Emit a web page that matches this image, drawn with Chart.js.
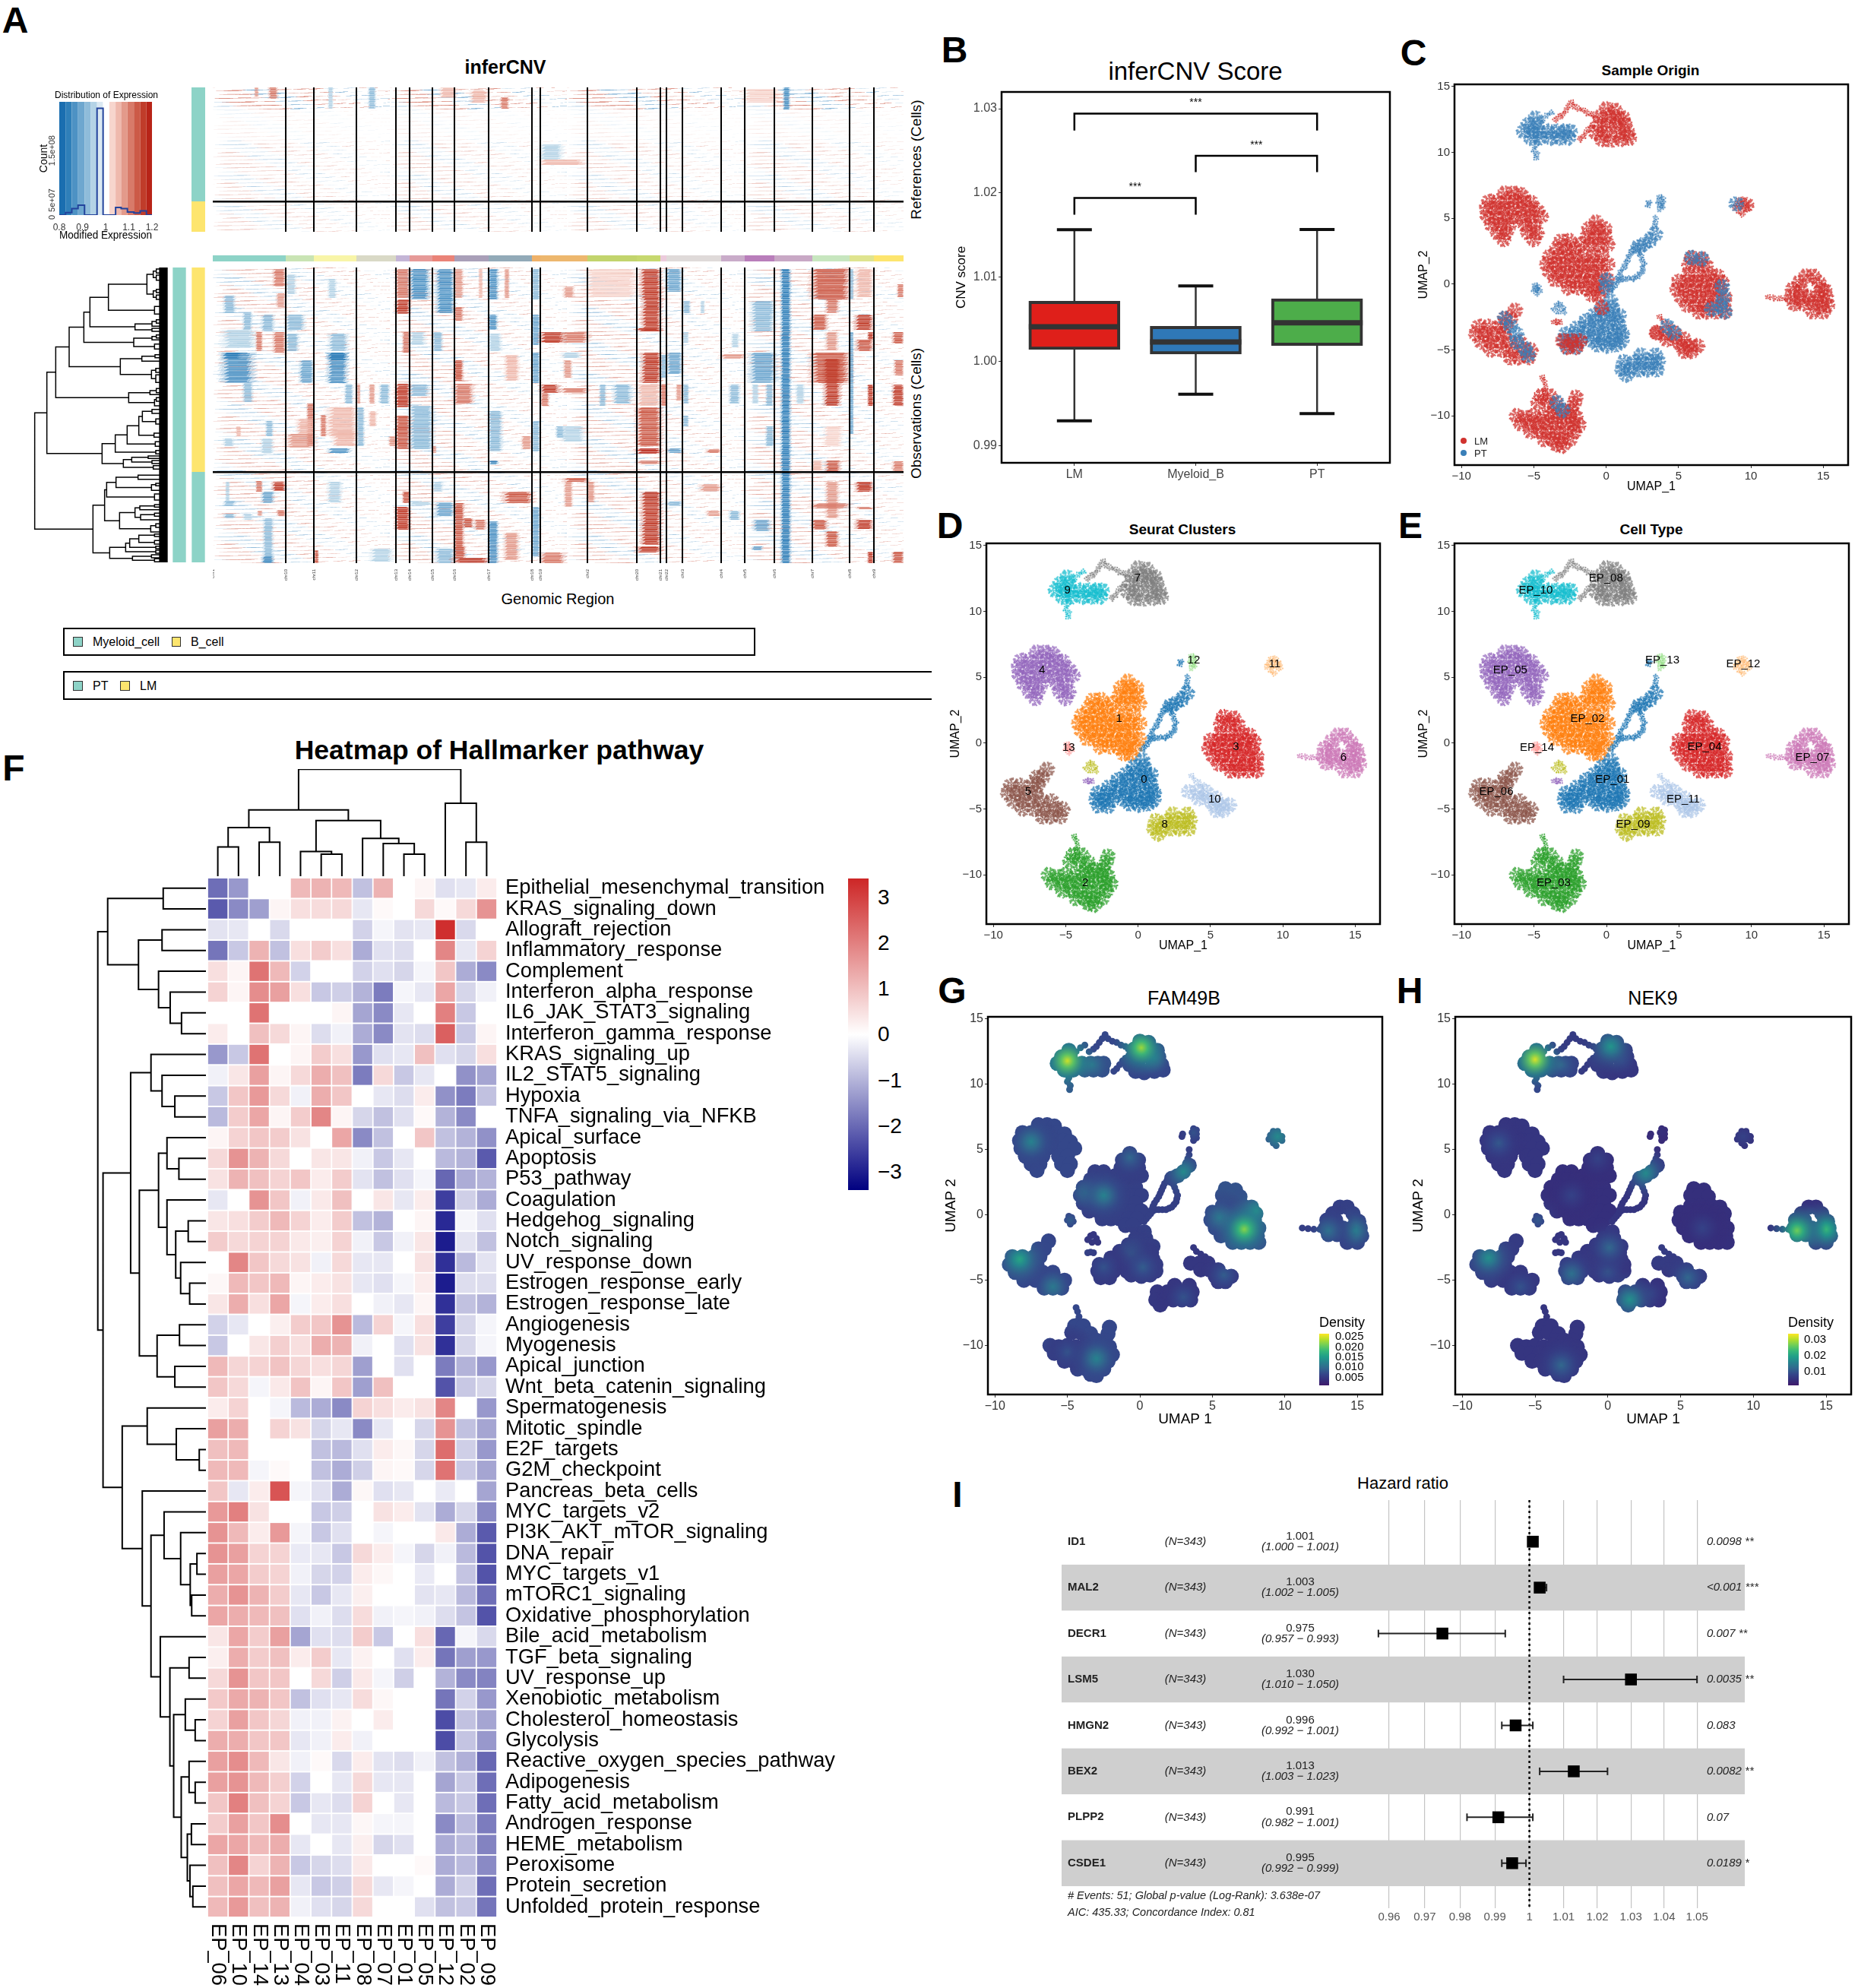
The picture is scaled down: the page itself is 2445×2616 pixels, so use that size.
<!DOCTYPE html>
<html>
<head>
<meta charset="utf-8">
<title>inferCNV figure</title>
<script src="https://cdn.jsdelivr.net/npm/chart.js@4/dist/chart.umd.min.js"></script>
<style>
html,body{margin:0;padding:0;background:#fff}
#page{position:relative;width:2445px;height:2616px;overflow:hidden;background:#fff;font-family:"Liberation Sans",Arial,sans-serif;color:#000}
.t{position:absolute;white-space:nowrap;line-height:1}
</style>
</head>
<body>
<div id="page"></div>
<script>
// ---------- A: inferCNV ----------
var histEdges = [0.8, 0.827, 0.854, 0.881, 0.909, 0.936, 0.963, 0.989, 1.016, 1.043, 1.067, 1.094, 1.122, 1.149, 1.176, 1.2];
var histBands = ['#1a6eb0', '#2f7fb9', '#4d92c4', '#6ea7cf', '#8fbcda', '#b4d3e6', '#dbe9f2', '#ffffff', '#f7d5cd', '#efb9ad', '#e39a8b', '#d87a69', '#cc5a47', '#c03c2a', '#b82418'];
var histCounts = [0, 0, 4.8e6, 1.2e7, 1.86e7, 0, 0, 2.01e8, 0, 0, 1.43e7, 1.2e7, 5.7e6, 3.8e6, 8e6, 0];
var chrNames = ['chr1', 'chr10', 'chr11', 'chr12', 'chr13', 'chr14', 'chr15', 'chr16', 'chr17', 'chr18', 'chr19', 'chr2', 'chr20', 'chr21', 'chr22', 'chr3', 'chr4', 'chr5', 'chr6', 'chr7', 'chr8', 'chr9'];
var chrStarts = [0, 96, 133, 189, 241, 259, 289, 318, 363, 420, 431, 493, 558, 589, 597, 618, 669, 700, 739, 789, 838, 870];
var chrEnd = 909;
var chrColors = ['#8dd3c7', '#c9e4b4', '#f8f5a8', '#d9d9c6', '#c4b5d6', '#e69a98', '#ea8378', '#a99fb8', '#92aab8', '#efb169', '#edb76e', '#c2d46d', '#c6d86f', '#eccbdc', '#dfdad9', '#dfdad9', '#c9acc9', '#b97ebb', '#c8a8c5', '#c7e6bf', '#dfe48f', '#fde56e'];
// [from gene, to gene, from cell, to cell, modified expression]
var refNoise = [[0, 909, 0, 29, 3], [0, 909, 29, 70, 0.4], [0, 909, 70, 190, 1.1]];
var refBlocks = [
  [74, 85, 0, 15, 1.12], [55, 60, 0, 12, 1.08], [205, 214, 0, 28, 0.93], [152, 158, 0, 28, 0.96], [379, 389, 13, 28, 1.12], [751, 759, 0, 29, 0.87],
  [432, 459, 75, 95, 0.96], [432, 487, 95, 102, 1.05], [300, 320, 0, 14, 1.05], [700, 745, 2, 20, 1.04], [340, 360, 4, 20, 1.05]
];
var obsBlocks = [
  [80, 95, 2, 25, 1.1], [84, 95, 34, 52, 1.09], [15, 29, 37, 60, 0.93], [40, 51, 59, 82, 0.93], [65, 80, 62, 84, 0.92], [15, 55, 82, 105, 0.95], [57, 65, 85, 110, 1.11], [80, 95, 85, 112, 1.12],
  [14, 52, 112, 152, 0.87], [14, 36, 112, 120, 0.84], [40, 52, 152, 177, 0.92], [70, 79, 202, 222, 0.93], [31, 37, 209, 222, 1.06], [15, 27, 225, 235, 0.95], [64, 79, 225, 245, 0.95],
  [57, 65, 281, 295, 1.12], [79, 95, 282, 294, 1.15], [65, 80, 295, 310, 0.89], [15, 29, 307, 314, 0.92], [15, 29, 324, 330, 0.93], [40, 52, 324, 332, 0.94], [59, 65, 320, 327, 1.09], [85, 95, 319, 327, 1.1], [67, 79, 330, 389, 0.91], [65, 79, 380, 389, 0.88], [17, 22, 282, 307, 0.95],
  [97, 109, 9, 35, 0.95], [97, 120, 62, 82, 0.93], [97, 112, 87, 110, 0.92], [115, 132, 122, 152, 0.9], [124, 133, 179, 235, 1.12], [98, 133, 219, 237, 1.07], [112, 133, 199, 219, 1.06],
  [152, 162, 15, 40, 0.96], [154, 177, 87, 110, 0.92], [152, 176, 112, 152, 0.88], [152, 176, 112, 122, 0.84], [174, 184, 154, 179, 0.93], [152, 189, 184, 222, 1.05], [142, 149, 194, 222, 1.12], [159, 189, 215, 235, 1.06], [153, 180, 238, 244, 0.87], [152, 169, 282, 309, 0.95], [134, 139, 372, 389, 1.14],
  [190, 199, 184, 235, 0.91], [220, 232, 154, 179, 0.92], [206, 213, 154, 179, 1.07], [190, 194, 154, 179, 1.09], [206, 215, 189, 209, 1.05], [232, 241, 222, 235, 1.07], [209, 235, 370, 387, 0.95],
  [241, 259, 2, 40, 1.11], [241, 259, 42, 61, 1.15], [250, 259, 85, 112, 1.11], [241, 259, 153, 184, 1.16], [241, 259, 195, 239, 1.14], [250, 259, 295, 310, 1.13], [241, 259, 315, 345, 1.16],
  [260, 284, 2, 42, 0.88], [260, 289, 182, 239, 0.92], [260, 284, 154, 169, 0.93], [260, 279, 85, 102, 0.96], [260, 289, 308, 312, 0.94],
  [295, 317, 2, 60, 0.88], [290, 302, 85, 110, 0.92], [294, 317, 309, 327, 0.89], [290, 302, 282, 295, 0.94], [294, 317, 370, 389, 0.93], [289, 294, 235, 244, 1.09],
  [318, 329, 2, 40, 1.08], [318, 329, 52, 70, 1.1], [318, 329, 122, 149, 1.13], [318, 342, 153, 179, 1.11], [318, 330, 310, 369, 1.14], [330, 342, 330, 342, 1.14], [345, 359, 332, 345, 1.11], [318, 332, 367, 382, 1.14], [318, 362, 382, 389, 1.15], [350, 355, 2, 40, 1.06],
  [363, 375, 2, 42, 0.88], [363, 374, 62, 82, 0.88], [363, 379, 87, 110, 0.95], [363, 380, 189, 242, 0.91], [364, 375, 254, 259, 0.85], [384, 390, 2, 40, 1.07], [385, 402, 115, 149, 1.06], [384, 420, 295, 310, 1.14], [363, 375, 334, 389, 0.88], [384, 402, 349, 385, 1.09], [407, 419, 222, 239, 1.07],
  [420, 430, 2, 42, 0.93], [420, 430, 62, 102, 0.9], [420, 430, 112, 152, 0.9], [420, 430, 202, 242, 0.92], [420, 430, 315, 380, 0.89],
  [432, 462, 85, 99, 1.15], [432, 455, 154, 165, 1.15], [432, 442, 165, 182, 1.1], [452, 462, 209, 224, 0.93], [432, 462, 375, 389, 1.12],
  [460, 493, 85, 99, 1.12], [462, 475, 25, 39, 1.08], [462, 472, 122, 145, 1.09], [460, 493, 159, 165, 1.1], [463, 493, 277, 282, 1.14], [463, 473, 282, 315, 1.09], [460, 483, 112, 119, 0.95], [460, 487, 209, 229, 0.95],
  [493, 556, 2, 39, 1.03], [509, 517, 154, 182, 0.93], [528, 550, 154, 179, 0.92], [493, 502, 282, 309, 1.08],
  [564, 589, 2, 42, 1.15], [566, 589, 42, 84, 1.17], [559, 589, 80, 84, 1.16], [565, 589, 112, 152, 1.17], [559, 589, 154, 182, 1.06], [559, 589, 184, 235, 1.13], [559, 589, 238, 245, 1.18], [559, 589, 254, 259, 1.1], [565, 589, 295, 365, 1.15], [559, 589, 367, 375, 1.17],
  [590, 597, 115, 145, 0.92], [590, 597, 154, 182, 1.1],
  [597, 617, 2, 32, 0.9], [598, 617, 112, 140, 0.9], [598, 617, 238, 244, 0.89], [610, 617, 154, 175, 1.08], [598, 617, 308, 314, 0.93],
  [619, 628, 44, 60, 0.92], [642, 647, 44, 60, 0.94], [619, 626, 85, 99, 0.94], [619, 626, 154, 179, 0.93], [619, 626, 195, 209, 0.92], [650, 668, 239, 244, 1.12], [642, 668, 285, 295, 1.09], [650, 668, 320, 327, 1.07],
  [683, 692, 87, 105, 0.94], [680, 693, 154, 179, 0.93], [680, 693, 320, 332, 0.93], [669, 700, 114, 120, 1.07],
  [710, 738, 44, 84, 0.91], [708, 740, 112, 152, 0.89], [710, 718, 154, 179, 0.94], [728, 737, 154, 182, 0.91], [728, 738, 209, 235, 0.93], [712, 733, 332, 347, 0.9], [710, 723, 367, 372, 0.9],
  [748, 760, 2, 389, 0.84], [768, 778, 154, 179, 0.95],
  [789, 837, 2, 42, 1.13], [789, 808, 62, 82, 1.14], [807, 823, 42, 60, 1.1], [807, 822, 85, 109, 1.08], [789, 837, 112, 152, 1.13], [805, 825, 120, 182, 1.15], [807, 825, 254, 269, 1.13], [807, 823, 282, 330, 1.08], [789, 837, 310, 317, 1.1], [789, 808, 332, 345, 1.13], [807, 823, 347, 367, 1.13], [789, 802, 254, 267, 1.06], [805, 827, 209, 235, 1.04],
  [838, 843, 2, 42, 0.92], [838, 843, 85, 219, 0.89], [846, 868, 62, 82, 1.17], [847, 868, 95, 110, 1.14], [862, 869, 85, 95, 1.15], [862, 869, 154, 182, 1.16], [847, 868, 282, 295, 1.16], [847, 868, 332, 344, 1.15], [847, 868, 315, 318, 1.12], [862, 869, 374, 389, 1.17], [847, 868, 2, 39, 1.05],
  [901, 909, 22, 39, 1.1], [895, 909, 85, 100, 1.13], [897, 909, 122, 142, 1.1], [895, 909, 154, 182, 1.16], [895, 909, 374, 389, 1.13], [895, 909, 255, 269, 1.1]
];
// cell dendrogram: [branch position, child, child], a bare number is a leaf row
var cellTree = [17,
  [65,
    [100,
      [153,
        [211,
          [235,
            [308, [460, [485, [497, 12, 28], [497, 36, 56]], [485, [497, 92, 105], [497, 115, 132]]], [490, 160, 190]],
            [413, [480, [497, 212, 226], 238], [480, 246, 258]]],
          [408, [480, [497, 272, 284], 292], [490, 308, 328]]],
        [355, [440, [492, 350, 362], 376], [478, [495, 404, 420], [495, 430, 460]]]],
      [388, [472, [497, 484, 500], 508], [490, [497, 520, 534], 552]]],
    [283,
      [335, [382, [428, [442, [480, 566, 582], [495, 604, 624]], [488, 660, 676]], [493, 694, 712]], [495, 728, 742]],
      [367, [400, [465, 750, 760], [480, 768, 780]], [485, 788, 802]]]],
  [247,
    [293,
      [301, [338, [425, 826, 842], [478, [495, 858, 868], 886]], [490, 900, 924]],
      [352, [413, [432, [490, 942, 952], 962], [435, [490, 976, 988], 1002]], [475, [495, 1018, 1032], 1050]]],
    [313,
      [376, [392, [428, [490, 1058, 1068], [490, 1084, 1098]], [495, 1106, 1116]], [495, 1122, 1134]],
      [403, [478, 1140, 1152], [490, 1156, 1168]]]]];

// ---------- B: score boxes ----------
var boxNames = ['LM', 'Myeloid_B', 'PT'];
var boxLow = [0.99294, 0.9961, 0.99379];
var boxQ1 = [1.00141, 1.00086, 1.00188];
var boxMedian = [1.0041, 1.00229, 1.00457];
var boxQ3 = [1.00715, 1.00417, 1.00744];
var boxHigh = [1.01563, 1.00895, 1.01565];
var boxColors = ['#df1f1a', '#2f78b7', '#4dad4a'];
var boxTicks = [0.99, 1.0, 1.01, 1.02, 1.03];
// [from group, to group, bar height, leg bottom]
var brackets = [[0, 2, 1.02941, 1.0274], [1, 2, 1.0244, 1.02246], [0, 1, 1.01941, 1.01742]];

// ---------- C, D, E, G, H: UMAP ----------
var umapTicks = [-10, -5, 0, 5, 10, 15];
var clusterColors = ['#1f77b4', '#ff7f0e', '#2ca02c', '#d62728', '#9467bd', '#8c564b', '#cc79b7', '#7f7f7f', '#bcbd22', '#17becf', '#aec7e8', '#ffbb78', '#98df8a', '#ff9896'];
var clusterOrigin = ['PT', 'LM', 'LM', 'LM', 'LM', 'LM', 'LM', 'LM', 'PT', 'PT', 'LM', 'LM', 'PT', 'PT'];
var clusterNames = ['0', '1', '2', '3', '4', '5', '6', '7', '8', '9', '10', '11', '12', '13'];
var cellTypes = ['EP_01', 'EP_02', 'EP_03', 'EP_04', 'EP_05', 'EP_06', 'EP_07', 'EP_08', 'EP_09', 'EP_10', 'EP_11', 'EP_12', 'EP_13', 'EP_14'];
var clusterCentres = [[0.41, -2.8], [-1.31, 1.82], [-3.65, -10.6], [6.76, -0.3], [-6.64, 5.56], [-7.6, -3.7], [14.2, -1.1], [-0.04, 12.5], [1.84, -6.2], [-4.88, 11.6], [5.29, -4.27], [9.43, 6], [3.85, 6.3], [-4.8, -0.37]];
var cluster0 = [[0.3, -1.3], [-0.3, -1.8], [0.4, -1.8], [-0.8, -2.3], [-0.2, -2.3], [0.5, -2.3], [0.9, -2.4], [-1.4, -2.8], [-0.7, -2.8], [0.1, -2.8], [0.8, -2.9], [-2, -3.3], [-1.3, -3.3], [-0.6, -3.3], [0.1, -3.3], [0.9, -3.4], [-2.8, -3.8], [-2.2, -3.8], [-1.5, -3.8], [-0.8, -3.8], [-0.1, -3.8], [0.6, -3.8], [1.1, -3.8], [-2.9, -4.3], [-2.4, -4.3], [-1.8, -4.3], [-0.9, -4.3], [-0.2, -4.3], [0.5, -4.3], [1.1, -4.3], [-2.7, -4.8], [-2.1, -4.8], [-0.6, -4.6], [0.1, -4.7], [0.7, -4.6], [3.4, 3.8], [3, 3.3], [2.6, 3], [2.2, 2.8]];
var cluster1 = [[-0.7, 4.7], [-1.2, 4.2], [-0.6, 4.2], [-0.1, 4.2], [-1.3, 3.6], [-0.7, 3.6], [-0.1, 3.6], [-1.7, 3], [-1.1, 3], [-0.5, 3], [0.1, 3], [-3.1, 3.3], [-2.5, 3.3], [-3.4, 2.7], [-2.8, 2.7], [-2.2, 2.7], [-3.9, 2.1], [-3.3, 2.1], [-2.7, 2.1], [-2.1, 2.1], [-1.5, 2.1], [-0.9, 2.1], [-0.3, 2.1], [-4.1, 1.5], [-3.5, 1.5], [-2.9, 1.5], [-2.3, 1.5], [-1.7, 1.5], [-1.1, 1.5], [-0.5, 1.5], [0.1, 1.5], [-3.9, 0.9], [-3.3, 0.9], [-2.7, 0.9], [-2.1, 0.9], [-1.5, 0.9], [-0.9, 0.9], [-0.3, 0.9], [-3.5, 0.3], [-2.9, 0.3], [-2.3, 0.3], [-1.7, 0.3], [-1.1, 0.3], [-0.5, 0.3], [0.1, 0.3], [-2.6, -0.3], [-2, -0.3], [-1.4, -0.3], [-0.8, -0.3], [-0.2, -0.3], [-1, -0.8], [-0.5, -0.8]];
var cluster2 = [[-4.5, -8.5], [-3.9, -8.5], [-2.1, -8.6], [-4.7, -9], [-4.1, -9], [-3.4, -9.1], [-2.2, -9.1], [-3.6, -9.6], [-3, -9.6], [-2.4, -9.6], [-6.2, -10], [-5.6, -10.1], [-5, -10], [-4.4, -10.1], [-3.8, -10], [-3.2, -10.1], [-2.6, -10], [-2.1, -10.1], [-5.9, -10.6], [-5.3, -10.6], [-4.7, -10.6], [-4.1, -10.6], [-3.5, -10.6], [-2.9, -10.6], [-2.3, -10.6], [-1.9, -10.7], [-5.2, -11.2], [-4.6, -11.2], [-4, -11.2], [-3.4, -11.2], [-2.8, -11.2], [-2.2, -11.2], [-4.3, -11.8], [-3.7, -11.8], [-3.1, -11.8], [-2.5, -11.8], [-3.4, -12.2], [-3, -12.3]];
var cluster3 = [[5.9, 2], [6.6, 1.9], [5.7, 1.5], [6.3, 1.5], [6.9, 1.4], [5.7, 0.7], [6.4, 0.7], [7.1, 0.7], [7.7, 0.6], [5, 0.2], [5.6, 0.2], [6.2, 0.2], [6.8, 0.2], [7.4, 0.2], [8, 0.1], [4.9, -0.4], [5.5, -0.4], [6.1, -0.4], [6.7, -0.4], [7.3, -0.4], [7.9, -0.4], [5.2, -1], [5.8, -1], [6.4, -1], [7, -1], [7.6, -1], [8.2, -1], [5.6, -1.6], [6.2, -1.6], [6.8, -1.6], [7.4, -1.6], [8.1, -1.6], [6.4, -2.1], [7, -2.1], [7.6, -2.1], [8.2, -2.1]];
var cluster4 = [[-7, 6.9], [-6.4, 6.9], [-5.9, 6.8], [-8.1, 6.3], [-7.5, 6.3], [-6.9, 6.3], [-6.3, 6.3], [-5.7, 6.3], [-5.2, 6.2], [-8.3, 5.7], [-7.7, 5.7], [-7.1, 5.7], [-6.5, 5.7], [-5.9, 5.7], [-5.3, 5.7], [-4.8, 5.6], [-8.2, 5.1], [-7.6, 5.1], [-7, 5.1], [-6.4, 5.1], [-5.8, 5.1], [-5.2, 5.1], [-4.5, 5.1], [-7.9, 4.5], [-7.3, 4.5], [-6.7, 4.5], [-5.6, 4.5], [-5, 4.5], [-7.5, 3.9], [-6.9, 3.9], [-5.4, 3.9], [-4.8, 3.9], [-7.1, 3.4], [-5, 3.4]];
var cluster5 = [[-6.3, -2], [-7, -2.6], [-6.6, -2.6], [-8.8, -3.2], [-8.1, -3.2], [-7.3, -3.2], [-6.9, -3.2], [-9, -3.8], [-8.4, -3.8], [-7.8, -3.8], [-7.1, -3.8], [-8.6, -4.4], [-8, -4.4], [-7.3, -4.4], [-6.7, -4.4], [-6, -4.4], [-8, -5], [-7.2, -5], [-6.5, -5], [-5.7, -5], [-5.2, -5], [-6.6, -5.6], [-6, -5.6], [-5.4, -5.6]];
var cluster6 = [[13.8, 0.6], [14.3, 0.6], [13.3, 0.1], [14.7, 0.1], [12.9, -0.4], [13.5, -0.4], [14.9, -0.4], [15.1, -0.5], [12.8, -1], [13.4, -1], [14, -1], [14.6, -1], [15.2, -1], [13, -1.5], [13.6, -1.5], [14.3, -1.5], [14.9, -1.5], [15.3, -1.6], [14.3, -2.1], [15, -2.1]];
var cluster7 = [[0, 13.3], [0.6, 13.2], [-0.4, 12.7], [0.2, 12.7], [0.8, 12.7], [1.2, 12.6], [-0.5, 12.1], [0.1, 12.1], [0.7, 12.1], [1.3, 12.1], [-0.7, 11.5], [-0.1, 11.5], [0.9, 11.5], [1.5, 11.5], [-0.3, 11], [0.3, 10.9], [1, 11], [1.6, 11.1]];
var cluster8 = [[2.4, -5.4], [3.4, -5.4], [1.2, -5.9], [1.9, -5.9], [2.5, -5.9], [3.1, -5.9], [3.6, -5.9], [1.1, -6.5], [1.7, -6.5], [2.3, -6.5], [2.9, -6.5], [3.5, -6.5], [1.4, -6.9]];
var cluster9 = [[-4.9, 12.6], [-5.4, 12.1], [-4.8, 12.1], [-5.7, 11.6], [-5.1, 11.6], [-4.6, 11.6], [-4, 11.6], [-3.4, 11.6], [-2.9, 11.6], [-2.5, 11.6], [-5.2, 11.1], [-4.6, 11.1], [-3.8, 11.1], [-3.2, 11.1], [-2.6, 11.1]];
var cluster10 = [[3.5, -3.7], [4.1, -3.7], [4.7, -3.7], [4.2, -4.2], [4.8, -4.2], [5.4, -4.2], [5.2, -4.7], [5.8, -4.7], [6.3, -4.7], [5.4, -5.1], [5.9, -5.1]];
var clusterPoints = [cluster0, cluster1, cluster2, cluster3, cluster4, cluster5, cluster6, cluster7, cluster8, cluster9, cluster10, [], [], []];
// thin strands and very small groups
var strandPoints = [
  [[0.3, -0.5], [0.45, -0.3], [0.6, -0.1], [0.75, 0.1], [0.9, 0.3], [1.1, 0.4], [1.3, 0.4], [1.55, 0.4], [1.8, 0.4], [2, 0.5], [2.2, 0.6], [2.35, 0.8], [2.5, 1], [2.55, 1.25], [2.6, 1.5], [2.5, 1.8], [2.4, 2.1], [2.3, 2.35], [2.2, 2.6], [0.8, 0.4], [0.9, 0.65], [1, 0.9], [1.15, 1.15], [1.3, 1.4], [1.4, 1.65], [1.5, 1.9], [1.6, 2.15], [1.7, 2.4], [1.85, 2.6], [2, 2.8], [3.3, 4.3], [3.4, 4.6], [3.4, 5], [2.9, 6], [2.95, 6.2]],
  [], [[-4.4, -7.1], [-4.3, -7.4], [-4.2, -7.8], [-4.3, -8.1]], [],
  [[-3.6, -2.9], [-3.4, -2.85], [-3.2, -2.9]], [],
  [[11.2, -1], [11.6, -1.05], [12, -1.1], [12.4, -1.1]],
  [[-2.4, 13.8], [-2.6, 13.5], [-2.8, 13.2], [-3, 12.9], [-3.2, 12.7], [-3.5, 12.5], [-2.2, 13.5], [-1.9, 13.3], [-1.6, 13.2], [-1.3, 13], [-1, 12.9], [-0.8, 12.7], [-1, 12], [-1.2, 11.8], [-1.4, 11.5], [-1.6, 11.2], [-1.8, 11]],
  [[-3.4, -1.6], [-3, -1.8], [-3.3, -2.1], [-3.6, -1.9], [-3.2, -1.5], [-2.9, -2.1]],
  [[-4.8, 10.8], [-4.9, 10.5], [-5, 10.2], [-4.8, 9.9], [-4.85, 9.6], [-4.4, 12.5], [-4.1, 12.8], [-3.8, 13]],
  [[3.7, -2.5], [3.9, -2.8], [4.2, -3], [4.5, -3.2]],
  [[9.2, 6.4], [9.5, 6.4], [9, 6.1], [9.3, 6.1], [9.6, 6.1], [9.8, 6], [8.9, 5.8], [9.2, 5.8], [9.5, 5.8], [9.8, 5.7], [9.2, 5.5], [9.4, 5.3]],
  [[3.7, 6.6], [3.9, 6.5], [3.6, 6.3], [3.9, 6.2], [3.7, 6], [3.9, 5.9], [3.7, 5.7]],
  [[-4.9, -0.1], [-4.7, -0.2], [-5, -0.4], [-4.8, -0.4], [-4.6, -0.5], [-4.8, -0.7]]
];
// panel C: cells of the other origin sitting on a cluster
var ptOnLM = [[8, -0.2], [8.1, -1], [7.9, -1.6], [8.2, -2.1], [7.3, -1.9], [5.9, 2], [6.6, 1.9], [-6.6, -3.2], [-6.2, -3.8], [-6.2, -4.4], [-5.6, -4.9], [-5.4, -5.4], [-7, -2.6], [-3.4, -9], [-3, -9.6], [0, -0.3], [0, 0.3], [4.2, -3.2], [4.7, -3.7], [9, 6.1]];
var lmOnPT = [[-3, -4.3], [-2.7, -4.8], [-2.4, -4.3], [-2.1, -4.8], [-1.8, -4.3], [-0.3, -1.8], [3.5, -3.7], [9.7, 6]];
var fam49bBase = [0.005, 0.005, 0.006, 0.007, 0.006, 0.006, 0.005, 0.006, 0.004, 0.008, 0.004, 0.008, 0.004, 0.005];
var nek9Base = [0.005, 0.004, 0.005, 0.004, 0.005, 0.006, 0.005, 0.006, 0.005, 0.008, 0.006, 0.004, 0.004, 0.005];
var fam49bPeaks = [[-5, -10.5, 0.007], [-0.5, -3, 0.009], [-2.5, -4, 0.007], [0.2, -4, 0.008], [5.8, -4.6, 0.008], [3, -6.3, 0.007], [3.7, 6.3, 0.007], [-4.8, -0.4, 0.008], [-0.7, 4.4, 0.009], [-3.7, 1.7, 0.011], [-2.5, 1.5, 0.012], [-7.5, 5.6, 0.012], [5.5, -0.2, 0.011], [14.8, -1.2, 0.012], [13, -1.2, 0.01], [-6, -5.5, 0.011], [-3, -11, 0.012], [3, 3.3, 0.013], [9.5, 6, 0.013], [1, 12, 0.011], [-3.3, 11.5, 0.011], [8, 0.3, 0.014], [-8.3, -3.4, 0.016], [7.2, -1.1, 0.022], [0.1, 12.8, 0.023], [-5, 11.8, 0.025]];
var nek9Peaks = [[3.7, 6.4, 0.004], [14, 0.3, 0.006], [3, -6, 0.007], [-2.5, 1.5, 0.007], [-0.7, 4.3, 0.007], [6.5, -1, 0.007], [9.3, 6, 0.007], [1, 11.8, 0.008], [-6, -5.5, 0.009], [-7.5, 5.5, 0.01], [0, -4.3, 0.01], [-4.8, -0.4, 0.01], [-3.2, 11.5, 0.012], [0.1, -2.5, 0.012], [5.5, -4.8, 0.012], [-3.2, -11.5, 0.012], [-2.5, -4.5, 0.014], [2.6, 3.2, 0.017], [-8.2, -3.3, 0.018], [1.5, -6.5, 0.018], [0.2, 12.9, 0.019], [15, -1.1, 0.024], [13, -1.2, 0.028], [-5, 11.9, 0.034]];

// ---------- F: hallmark heatmap ----------
var epColumns = ['EP_06', 'EP_10', 'EP_14', 'EP_13', 'EP_04', 'EP_03', 'EP_11', 'EP_08', 'EP_07', 'EP_01', 'EP_05', 'EP_12', 'EP_02', 'EP_09'];
var pathways = ['Epithelial_mesenchymal_transition', 'KRAS_signaling_down', 'Allograft_rejection', 'Inflammatory_response', 'Complement', 'Interferon_alpha_response', 'IL6_JAK_STAT3_signaling', 'Interferon_gamma_response', 'KRAS_signaling_up', 'IL2_STAT5_signaling', 'Hypoxia', 'TNFA_signaling_via_NFKB', 'Apical_surface', 'Apoptosis', 'P53_pathway', 'Coagulation', 'Hedgehog_signaling', 'Notch_signaling', 'UV_response_down', 'Estrogen_response_early', 'Estrogen_response_late', 'Angiogenesis', 'Myogenesis', 'Apical_junction', 'Wnt_beta_catenin_signaling', 'Spermatogenesis', 'Mitotic_spindle', 'E2F_targets', 'G2M_checkpoint', 'Pancreas_beta_cells', 'MYC_targets_v2', 'PI3K_AKT_mTOR_signaling', 'DNA_repair', 'MYC_targets_v1', 'mTORC1_signaling', 'Oxidative_phosphorylation', 'Bile_acid_metabolism', 'TGF_beta_signaling', 'UV_response_up', 'Xenobiotic_metabolism', 'Cholesterol_homeostasis', 'Glycolysis', 'Reactive_oxygen_species_pathway', 'Adipogenesis', 'Fatty_acid_metabolism', 'Androgen_response', 'HEME_metabolism', 'Peroxisome', 'Protein_secretion', 'Unfolded_protein_response'];
var pathwayScores = [
  [-2.1, -1.5, 0, 0, 1.1, 1.2, 1.1, -0.9, 1.2, 0, 0.15, -0.45, -0.35, 0.3],
  [-2.4, -1.7, -1.4, 0.15, 0.5, 0.55, 0.6, -0.35, 0.1, 0, 0.6, 0.1, 0.6, 1.7],
  [-0.4, -0.35, 0, -0.55, 0, 0, 0, -0.65, -0.15, -0.4, -0.35, 3.3, -0.55, 0],
  [-2, -0.8, 1.2, -0.9, 0.5, 0.8, 0.5, -1.2, -0.45, -0.5, 0, 1.9, -0.35, 0.7],
  [0.5, 0.15, 2.2, 1.1, -0.65, 0, 0, -0.65, -0.45, -0.6, -0.15, 0.9, -1.2, -1.7],
  [0.7, 0.15, 1.8, 1.5, 0.5, -0.8, -0.7, -1.1, -1.9, -0.15, -0.35, 1.4, -0.6, -0.2],
  [0, 0, 2.2, 0, 0, 0, 0.15, -1.3, -1.7, -0.35, 0, 2, -0.8, 0],
  [0.3, 0, 1, 0.6, 0.15, -0.5, -0.2, -1.2, -1.7, -0.4, -0.5, 2.5, -0.8, 0.15],
  [-1.5, -0.8, 2.2, 0, 0.15, 0.8, 0.5, -1.5, -0.45, -0.35, 1, -0.45, -0.6, 0.5],
  [-0.2, 0.4, 1.5, 0.15, 0.6, 1.3, 1, -1.9, 0.6, -0.8, -0.35, 0, -1.6, -1.3],
  [-0.8, 0.9, 1.6, 0.6, -0.2, 1.3, 0.9, 0, -0.35, -0.5, 0.3, -1.6, -1.9, -0.9],
  [-1, 0.8, 1.4, 0.15, 0.8, 1.9, 0.15, -0.6, -0.9, -0.45, 0.1, -1.1, -1.7, 0],
  [0.15, 0.7, 0.9, 0.8, 0.45, 0, 1.4, -1.7, -0.9, 0, 0.9, -0.9, -1.1, -1.6],
  [0.6, 1.7, 1.2, 0.6, 0, 0.4, 0.4, -0.2, -0.8, -0.35, 0, -1, -1.1, -2.4],
  [0.45, 1.2, 1, 0.7, 0.9, 0.3, 0.8, -0.4, -0.9, -0.45, -0.15, -2.2, -1.2, -1.1],
  [-0.35, 0, 1.7, 0.9, -0.2, 0.35, 1, 0, 0.4, -0.35, 0.3, -2.8, -0.7, -1.2],
  [0.4, 0.5, 0.8, 1.1, 0.7, 0.3, 0.8, -0.9, -1.1, 0, 0.15, -3.1, -0.15, -0.45],
  [0.8, 0.6, 0.7, 0.7, 0.35, 0.25, 0.7, -0.2, -0.8, -0.2, 0.4, -3.3, -0.4, -0.9],
  [0, 1.9, 0.9, 0.6, 0.45, -0.2, 0.6, -0.35, -0.35, 0, 0.45, -3, -1, -0.4],
  [0.12, 1.1, 0.9, 1.1, 0.15, 0.3, 0.45, -0.35, -0.45, -0.15, 0.3, -3.3, -0.5, -0.5],
  [0.4, 1.3, 0.5, 1.4, -0.15, 0.3, 0.5, 0, -0.2, -0.35, 0.15, -3, -0.9, -1.1],
  [-0.65, -0.35, 0, 0.25, 0.8, 0.9, 1.7, -1, 0.7, -0.15, 0.5, -2.8, -0.6, -0.15],
  [-0.8, 0, 0.4, 0.75, 0.5, 1.3, 1.2, -0.2, 0, -0.45, 0.45, -3, -0.6, -0.15],
  [1.1, 0.65, 0.7, 0.95, 0.65, 0.5, 0.65, -1.4, 0, -0.45, 0, -1.9, -1.1, -1.5],
  [0.9, 0.6, -0.15, 0.35, 0.95, 0.15, 0.9, -1.4, 1, 0, 0, -2.5, -0.8, -0.6],
  [0.3, 0.7, 0, -0.15, -1, -1.2, -1.7, 0.7, 0.5, 0.3, 0.45, 1.9, 0, -1.5],
  [1.5, 1.3, 0, 0.7, 0.45, -0.6, -0.35, -1.7, -0.35, 0, -0.6, 1.7, -0.9, -1.3],
  [1, 1.1, 0, 0, 0, -0.9, -1, -0.45, 0.3, 0.12, -0.6, 2.3, -0.7, -1.5],
  [1.1, 1.1, -0.15, 0.1, 0, -0.9, -1.2, -0.7, 0.15, 0.1, -0.6, 2.2, -0.8, -1.3],
  [0.9, -0.35, 0.3, 2.7, -0.15, -0.45, -1.2, 0.12, -0.45, -0.35, 0, -0.3, 0, -1.3],
  [1.6, 2, 0.45, 0, 0, -0.8, -0.7, 0, 0.45, 0.3, -0.4, -1.2, -0.6, -1.7],
  [1.7, 1.1, 0.3, 1.6, -0.15, -0.8, -0.45, 0, -0.15, 0, 0, 0.35, -1.2, -2.4],
  [1.7, 1.5, 0.7, 0.7, -0.3, -0.35, -0.8, 0.6, 0.3, -0.15, -0.6, -0.2, -1, -2.5],
  [1.5, 1.4, 0.8, 0.7, -0.2, -0.6, -0.65, 0.3, 0.12, 0, -0.3, 0, -0.85, -2.5],
  [1.3, 1.7, 1.2, 0.8, -0.35, -0.8, -0.35, 0.25, 0, 0, -0.4, -0.35, -1, -2.1],
  [1.4, 1.3, 1.1, 1, -0.45, -0.2, -0.5, 0.55, -0.2, -0.15, -0.2, -0.5, -0.85, -2.5],
  [0.4, 1.4, 0.8, 1.5, -1.3, -0.45, -0.5, 0.8, -0.8, 0, 0.5, -2.2, -0.15, -0.55],
  [0.25, 1.3, 0.8, 1, 0.3, 0.8, -0.35, 0.2, 0, -0.45, 0.3, -2, -1.4, -1.5],
  [0.6, 1.7, 0.9, 0.9, 0, 0.6, -0.7, 0.35, -0.15, -0.7, 0, -1.1, -1.7, -1.8],
  [0.85, 1.35, 1.2, 0.9, -0.9, -0.45, -0.35, 0.55, 0.12, 0, 0, -2, -0.65, -1.5],
  [0.7, 1.5, 0.9, 0.65, -0.2, -0.2, 0.2, 0, 0.3, 0, 0, -2.6, -0.9, -1.3],
  [1.3, 1.3, 0.9, 0.9, -0.35, -0.2, 0.3, -0.2, 0, 0, 0, -2.6, -0.85, -1.5],
  [1.5, 1.8, 1.1, 0.4, -0.2, 0.1, -0.55, 0.3, -0.4, -0.5, -0.2, -0.9, -1.15, -2.2],
  [1.5, 1.7, 1.1, 0.75, -0.65, 0, -0.35, 0.6, -0.35, -0.35, 0, -1.3, -0.8, -2.1],
  [0.9, 2, 1, 0.7, -0.8, -0.35, -0.5, 0.7, 0, -0.35, 0, -1, -0.8, -2.1],
  [0.8, 1.5, 0.9, 1.8, 0, -0.35, -0.35, 0.12, -0.15, -0.15, 0, -1.7, -1, -1.9],
  [1.4, 1.4, 1.1, 1.3, -0.35, 0, -0.35, 0.25, -0.6, -0.45, 0, -1.2, -1, -1.8],
  [1, 1.9, 0.7, 1.2, -0.8, -0.6, -0.5, 0.35, 0, 0, 0.1, -1.2, -1, -1.7],
  [1, 1.4, 1.1, 1.5, -0.35, -0.8, -0.7, 0.6, -0.35, -0.15, 0, -1.2, -0.7, -2.1],
  [1.1, 1.6, 1, 1.2, -0.2, -0.45, -0.6, 0.6, 0, 0, -0.45, -0.9, -0.8, -2]
];
// column dendrogram: [height, child, child], a bare number is a column
var columnTree = [140.8,
  [87.2, [64, [38.5, 0, 1], [44.8, 2, 3]], [73.3, [32.5, 4, [28.9, 5, 6]], [49.8, 7, [43, 8, [29, 9, 10]]]]],
  [96, 11, [44.8, 12, 13]]];
// row dendrogram: [branch position, child, child], a bare number is a row
var rowTree = [75,
  [109, [300, 0, 1], [215, [296, 2, 3], [284, 4, [324, 5, [363, 6, 7]]]]],
  [93,
    [188,
      [258, 8, [296, 9, [340, 10, 11]]],
      [218,
        [284, [313, 12, [354, 13, 14]], [313, 15, [343, [386, 16, 17], [360, 18, [391, 19, 20]]]]],
        [279, [356, 21, 22], [340, 23, 24]]]],
    [159,
      [245, 25, [345, 26, [424, 27, 28]]],
      [228, 29,
        [258,
          [303, 30, [360, 31, [393, [416, 32, 33], [398, 34, 35]]]],
          [290, 36, [323, [389, 37, 38], [336, [376, 39, [410, 40, 41]], [362, [389, 42, [410, 43, 44]], [383, [397, 45, 46], [392, 47, [402, 48, 49]]]]]]]]]]]];

// ---------- I: hazard ratios ----------
var genes = ['ID1', 'MAL2', 'DECR1', 'LSM5', 'HMGN2', 'BEX2', 'PLPP2', 'CSDE1'];
var hazard = [1.001, 1.003, 0.975, 1.03, 0.996, 1.013, 0.991, 0.995];
var hazardLow = [1.0, 1.002, 0.957, 1.01, 0.992, 1.003, 0.982, 0.992];
var hazardHigh = [1.001, 1.005, 0.993, 1.05, 1.001, 1.023, 1.001, 0.999];
var pValues = ['0.0098 **', '<0.001 ***', '0.007 **', '0.0035 **', '0.083', '0.0082 **', '0.07', '0.0189 *'];
var hazardTicks = [0.96, 0.97, 0.98, 0.99, 1, 1.01, 1.02, 1.03, 1.04, 1.05];

// ---------- helpers ----------
Chart.defaults.font.family = '"Liberation Sans", Arial, sans-serif';
Chart.defaults.color = '#333';
var page = document.getElementById('page');

function text(str, x, y, o) {
  o = o || {};
  var d = document.createElement('div');
  d.className = 't';
  d.textContent = str;
  var ax = o.align === 'left' ? '0' : '-50%';
  d.style.cssText = 'left:' + x + 'px;top:' + y + 'px;font-size:' + (o.size || 16) + 'px;font-weight:' + (o.weight || 'normal') +
    ';font-style:' + (o.style || 'normal') + ';color:' + (o.color || '#000') + ';transform:translate(' + ax + ',-50%)' + (o.rot ? ' rotate(' + o.rot + 'deg)' : '');
  page.appendChild(d);
}
function rect(x0, y0, x1, y1, css) {
  var d = document.createElement('div');
  d.style.cssText = 'position:absolute;box-sizing:border-box;left:' + x0 + 'px;top:' + y0 + 'px;width:' + (x1 - x0) + 'px;height:' + (y1 - y0) + 'px;' + css;
  page.appendChild(d);
}
function frac(v) { return v - Math.floor(v); }

// box is the plot area in page pixels, margins are left, top, right, bottom
function addChart(box, margins, cfg, plugins) {
  var ml = margins[0], mt = margins[1], mr = margins[2], mb = margins[3];
  var c = document.createElement('canvas');
  c.width = box[2] - box[0] + ml + mr;
  c.height = box[3] - box[1] + mt + mb;
  c.style.cssText = 'position:absolute;left:' + (box[0] - ml) + 'px;top:' + (box[1] - mt) + 'px;width:' + c.width + 'px;height:' + c.height + 'px';
  page.appendChild(c);
  var scales = cfg.options.scales;
  var yRight = scales.y.position === 'right';
  scales.x.afterFit = function (s) { s.height = mb; s.paddingLeft = s.paddingRight = s.paddingTop = s.paddingBottom = 0; };
  scales.y.afterFit = function (s) { s.width = yRight ? mr : ml; s.paddingLeft = s.paddingRight = s.paddingTop = s.paddingBottom = 0; };
  cfg.options.responsive = false;
  cfg.options.animation = false;
  cfg.options.devicePixelRatio = 1;
  cfg.options.events = [];
  cfg.options.layout = { autoPadding: false, padding: { left: 0, top: mt, right: yRight ? 0 : mr, bottom: 0 } };
  cfg.options.plugins = { legend: { display: false }, tooltip: { enabled: false }, title: { display: false } };
  cfg.plugins = [blockLayer, glowLayer].concat(plugins || []);
  return new Chart(c, cfg);
}
function fixedTicks(list) {
  return function (s) { s.ticks = list.map(function (v) { return { value: v }; }); };
}
function hidden(extra) { return Object.assign({ display: false }, extra); }

// one CNV region: single-pixel cell rows with frayed ends and varying strength
function cnvRegion(ctx, x0, x1, y0, y1, v) {
  var bin = Math.max(0, Math.min(14, Math.floor((v - 0.8) / 0.0267)));
  var col = hexRgb(histBands[bin]), w = x1 - x0, fray = Math.min(8, w * 0.2);
  for (var y = Math.round(y0); y < Math.round(y1); y++) {
    var s1 = frac(y * 0.618 + x0 * 0.13), s2 = frac(y * 0.7548 + x0 * 0.37), s3 = frac(y * 0.5698 + x1 * 0.21);
    var a = 0.45 + 0.55 * s1;
    ctx.fillStyle = rgba(col, a);
    ctx.fillRect(x0 + fray * s2, y, w - fray * s2 - fray * s3, 1);
    ctx.fillStyle = rgba(col, a * 0.35);
    ctx.fillRect(x0 - fray * s3, y, w + fray * s3 + fray * s2, 1);
  }
}
// rectangles read from dataset data, placed through the chart's scales
var blockLayer = {
  id: 'blockLayer',
  beforeDatasetsDraw: function (chart) {
    var ctx = chart.ctx, sx = chart.scales.x, sy = chart.scales.y;
    chart.data.datasets.forEach(function (ds) {
      if (!ds.blockFill && !ds.cnv) return;
      ds.data.forEach(function (b) {
        var x0 = sx.getPixelForValue(b.x0), x1 = sx.getPixelForValue(b.x1);
        var y0 = sy.getPixelForValue(b.y0), y1 = sy.getPixelForValue(b.y1);
        if (ds.cnv) { cnvRegion(ctx, x0, x1, Math.min(y0, y1), Math.max(y0, y1), b.v); return; }
        ctx.fillStyle = ds.blockFill(b);
        ctx.fillRect(x0, Math.min(y0, y1), x1 - x0, Math.abs(y1 - y0));
      });
    });
  }
};
function blockDataset(list, fill) {
  return { type: 'scatter', pointRadius: 0, blockFill: fill, data: list.map(function (b) { return { x: b[0], y: b[2], x0: b[0], x1: b[1], y0: b[2], y1: b[3], v: b[4] }; }) };
}
function cnvDataset(list) {
  var ds = blockDataset(list, null);
  ds.cnv = true;
  return ds;
}
// density glows only tint the cells already painted
var glowLayer = {
  id: 'glowLayer',
  beforeDatasetDraw: function (chart, args) { if (chart.data.datasets[args.index].glow) chart.ctx.globalCompositeOperation = 'source-atop'; },
  afterDatasetDraw: function (chart) { chart.ctx.globalCompositeOperation = 'source-over'; }
};
function frame(width) {
  return { id: 'frame', afterDraw: function (chart) {
    var a = chart.chartArea, ctx = chart.ctx;
    ctx.save(); ctx.strokeStyle = '#000'; ctx.lineWidth = width;
    ctx.strokeRect(a.left, a.top, a.right - a.left, a.bottom - a.top); ctx.restore();
  } };
}
function drawLayer(fn) { return { id: 'drawLayer', afterDraw: function (chart) { fn(chart, chart.ctx); } }; }

function treeSegments(tree, leafLevel, toPoint) {
  var out = [];
  function walk(n) {
    if (typeof n === 'number') return { p: n, h: leafLevel };
    var a = walk(n[1]), b = walk(n[2]);
    out.push(toPoint(a.p, a.h), toPoint(a.p, n[0]), toPoint(b.p, n[0]), toPoint(b.p, b.h), { x: null, y: null });
    return { p: (a.p + b.p) / 2, h: n[0] };
  }
  walk(tree);
  return out;
}

// colours
function hexRgb(h) { return [parseInt(h.slice(1, 3), 16), parseInt(h.slice(3, 5), 16), parseInt(h.slice(5, 7), 16)]; }
function mix(a, b, t) { return [0, 1, 2].map(function (i) { return Math.round(a[i] + (b[i] - a[i]) * t); }); }
function heatColor(v) {
  var c = v >= 0 ? mix([255, 255, 255], [205, 38, 38], Math.min(v / 3.42, 1)) : mix([255, 255, 255], [0, 0, 128], Math.min(-v / 3.7, 1));
  return 'rgb(' + c.join(',') + ')';
}
var VIRIDIS = ['#3f1a6b', '#352f7c', '#34478a', '#31688e', '#26828e', '#1f9e89', '#35b779', '#6ece58', '#b5de2b', '#fde725'];
function viridisRgb(t) {
  t = Math.max(0, Math.min(t, 0.9999)) * (VIRIDIS.length - 1);
  var i = Math.floor(t);
  return mix(hexRgb(VIRIDIS[i]), hexRgb(VIRIDIS[i + 1]), t - i);
}
function rgba(c, a) { return 'rgba(' + c.join(',') + ',' + a + ')'; }

var noiseCache = {};
function noiseFill(strength) {
  if (noiseCache[strength]) return noiseCache[strength];
  var c = document.createElement('canvas'); c.width = 233; c.height = 127;
  var g = c.getContext('2d');
  for (var i = 0; i < 820; i++) {
    g.fillStyle = rgba(i % 5 < 3 ? [204, 90, 71] : [77, 146, 196], Math.min(1, (0.03 + 0.13 * frac(i * 0.381)) * strength));
    g.fillRect(frac(i * 0.7548) * 233, Math.floor(frac(i * 0.5698) * 127), 3 + 18 * frac(i * 0.2451), 1);
  }
  noiseCache[strength] = g.createPattern(c, 'repeat');
  return noiseCache[strength];
}

// stipple stamp: one read position stands for a patch of small cell dots
var stampCache = {};
function stamp(color, R, count) {
  var key = color + R;
  if (stampCache[key]) return stampCache[key];
  var c = document.createElement('canvas'); c.width = c.height = 2 * R;
  var g = c.getContext('2d'); g.fillStyle = color;
  for (var i = 0; i < count; i++) {
    var r = Math.sqrt(frac(i * 0.7548 + 0.13)) * (R - 1), a = frac(i * 0.5698) * 6.283;
    g.beginPath(); g.arc(R + r * Math.cos(a), R + r * Math.sin(a), 1, 0, 6.3); g.fill();
  }
  stampCache[key] = c;
  return c;
}
var glowCache = {};
function glowStamp(t) {
  var key = Math.round(t * 50);
  if (glowCache[key]) return glowCache[key];
  var R = 38, c = document.createElement('canvas'); c.width = c.height = 2 * R;
  var g = c.getContext('2d'), grad = g.createRadialGradient(R, R, 0, R, R, R);
  grad.addColorStop(0, rgba(viridisRgb(t), 1));
  grad.addColorStop(0.22, rgba(viridisRgb(t * 0.8), 0.95));
  grad.addColorStop(0.55, rgba(viridisRgb(t * 0.55), 0.6));
  grad.addColorStop(1, rgba(viridisRgb(t * 0.4), 0));
  g.fillStyle = grad; g.fillRect(0, 0, 2 * R, 2 * R);
  glowCache[key] = c;
  return c;
}
function xy(list) { return list.map(function (p) { return { x: p[0], y: p[1] }; }); }
function stampDataset(points, color, order) {
  return { data: xy(points), order: order, pointStyle: stamp(color, 11, 60), pointRadius: 11, pointRotation: function (c) { return c.dataIndex * 47; } };
}
function strandDataset(points, color, order) {
  return { data: xy(points), order: order, pointStyle: stamp(color, 5, 10), pointRadius: 5, pointRotation: function (c) { return c.dataIndex * 47; } };
}
function dotDataset(points, color, radius, order) {
  return { data: xy(points), order: order, pointStyle: 'circle', pointRadius: radius, pointBackgroundColor: color, pointBorderWidth: 0 };
}
function minusTick(v) { return String(v).replace('-', '\u2212'); }
function umapScales(name1, name2, tickSize, titleSize) {
  function axis(min, max, title) {
    return {
      type: 'linear', min: min, max: max, afterBuildTicks: fixedTicks(umapTicks),
      grid: { drawOnChartArea: false, drawTicks: true, tickLength: 4, color: '#333' }, border: { display: false },
      ticks: { autoSkip: false, minRotation: 0, maxRotation: 0, padding: 2, color: '#333', font: { size: tickSize }, callback: minusTick },
      title: { display: true, text: title, color: '#000', font: { size: titleSize }, padding: 0 }
    };
  }
  return { x: axis(-10.485, 16.72, name1), y: axis(-13.75, 15.17, name2) };
}
function clusterLabels(names) {
  return drawLayer(function (chart, ctx) {
    ctx.save(); ctx.font = '15px "Liberation Sans"'; ctx.fillStyle = '#000'; ctx.textAlign = 'center'; ctx.textBaseline = 'middle';
    clusterCentres.forEach(function (p, i) { ctx.fillText(names[i], chart.scales.x.getPixelForValue(p[0]), chart.scales.y.getPixelForValue(p[1])); });
    ctx.restore();
  });
}

// ---------- panel A ----------
text('A', 20, 27, { size: 48, weight: 'bold' });
text('inferCNV', 665, 88, { size: 25, weight: 'bold' });
addChart([78, 134, 200, 283], [28, 4, 16, 36], {
  data: { datasets: [
    Object.assign(blockDataset(histBands.map(function (c, i) { return [histEdges[i], histEdges[i + 1], 0, 2.13e8, i]; }), function (b) { return histBands[b.v]; }), { order: 2 }),
    { type: 'line', order: 1, stepped: 'after', pointRadius: 0, borderColor: '#23439c', borderWidth: 2, data: histEdges.map(function (e, i) { return { x: e, y: histCounts[i] }; }) }
  ] },
  options: { scales: {
    x: { type: 'linear', min: 0.8, max: 1.2, afterBuildTicks: fixedTicks([0.8, 0.9, 1, 1.1, 1.2]), grid: { display: false }, border: { display: false },
      ticks: { autoSkip: false, minRotation: 0, maxRotation: 0, padding: 1, color: '#333', font: { size: 12 }, callback: function (v) { return String(v); } },
      title: { display: true, text: 'Modified Expression', color: '#000', font: { size: 15 }, padding: 0 } },
    y: { type: 'linear', min: 0, max: 2.13e8, afterBuildTicks: fixedTicks([0, 5e7, 1.5e8]), grid: { display: false }, border: { display: false },
      ticks: { autoSkip: false, minRotation: 90, maxRotation: 90, padding: 1, color: '#333', font: { size: 11 }, callback: function (v) { return v === 0 ? '0' : v === 5e7 ? '5e+07' : '1.5e+08'; } },
      title: { display: true, text: 'Count', color: '#000', font: { size: 14 }, padding: 0 } }
  } }
});
text('Distribution of Expression', 140, 125, { size: 12 });

function cnvScales(yMax, lineAt, showChr) {
  return {
    x: { type: 'linear', min: 0, max: chrEnd, afterBuildTicks: fixedTicks(chrStarts),
      grid: { z: 1, drawTicks: false, lineWidth: 2, color: function (c) { return c.index === 0 ? 'rgba(0,0,0,0)' : '#000'; } }, border: { display: false },
      ticks: { display: showChr, autoSkip: false, minRotation: 90, maxRotation: 90, padding: 8, color: '#333', font: { size: 6 }, callback: function (v, i) { return chrNames[i]; } } },
    y: { type: 'linear', reverse: true, min: 0, max: yMax, afterBuildTicks: fixedTicks([lineAt]),
      grid: { z: 1, drawTicks: false, lineWidth: 2.5, color: '#000' }, border: { display: false }, ticks: { display: false } }
  };
}
// reference cells
addChart([280, 115, 1189, 305], [0, 0, 0, 0], {
  data: { datasets: [
    blockDataset(refNoise, function (b) { return noiseFill(b.v); }),
    cnvDataset(refBlocks)
  ] },
  options: { scales: cnvScales(190, 150.5, false) }
});
rect(252, 115, 270, 265, 'background:#8dd3c7');
rect(252, 265, 270, 305, 'background:#fde56e');
// observed cells with the chromosome strip on top; blocks paint in dataset order
addChart([280, 352, 1189, 741], [0, 16, 0, 26], {
  data: { datasets: [
    blockDataset([[0, 909, 0, 389, 1.8]], function (b) { return noiseFill(b.v); }),
    cnvDataset(obsBlocks),
    blockDataset(chrColors.map(function (c, i) { return [chrStarts[i], i < 21 ? chrStarts[i + 1] : chrEnd, -16, -8, i]; }), function (b) { return chrColors[b.v]; })
  ] },
  options: { scales: cnvScales(389, 269, true) }
});
addChart([40, 350, 280, 750], [0, 0, 0, 0], {
  data: { datasets: [
    { type: 'line', borderColor: '#000', borderWidth: 1.5, pointRadius: 0, tension: 0, spanGaps: false, clip: false, order: 1,
      data: treeSegments(cellTree, 510, function (p, h) { return { x: h, y: p }; }) },
    Object.assign(blockDataset([[508, 542, 6, 1170, '#000'], [562, 614, 6, 1170, '#8dd3c7'], [637, 689, 6, 813, '#fde56e'], [637, 689, 813, 1170, '#8dd3c7']], function (b) { return b.v; }), { order: 2 })
  ] },
  options: { scales: { x: hidden({ type: 'linear', min: 0, max: 720 }), y: hidden({ type: 'linear', reverse: true, min: 0, max: 1200 }) } }
});
text('Genomic Region', 734, 788, { size: 20 });
text('References (Cells)', 1205, 210, { size: 19, rot: -90 });
text('Observations (Cells)', 1205, 544, { size: 19, rot: -90 });
rect(83, 826, 994, 863, 'border:2px solid #000');
rect(83, 883, 1226, 921, 'border:2px solid #000;border-right:none');
rect(96, 838, 109, 851, 'background:#8dd3c7;border:1px solid #333');
text('Myeloid_cell', 122, 845, { size: 16, align: 'left' });
rect(226, 838, 238, 851, 'background:#fde56e;border:1px solid #333');
text('B_cell', 251, 845, { size: 16, align: 'left' });
rect(96, 896, 109, 909, 'background:#8dd3c7;border:1px solid #333');
text('PT', 122, 903, { size: 16, align: 'left' });
rect(158, 896, 171, 909, 'background:#fde56e;border:1px solid #333');
text('LM', 184, 903, { size: 16, align: 'left' });

// ---------- panel B ----------
text('B', 1256, 66, { size: 48, weight: 'bold' });
text('inferCNV Score', 1573, 93, { size: 33 });
(function () {
  var datasets = [];
  boxNames.forEach(function (n, i) {
    datasets.push({ type: 'line', order: 5, borderColor: '#333', borderWidth: 2.5, pointRadius: 0, data: [{ x: i, y: boxLow[i] }, { x: i, y: boxHigh[i] }] });
    datasets.push({ type: 'scatter', order: 4, pointStyle: 'line', pointRadius: 23, pointBorderWidth: 4, pointBorderColor: '#111', data: [{ x: i, y: boxLow[i] }, { x: i, y: boxHigh[i] }] });
  });
  datasets.push({ type: 'bar', order: 3, grouped: false, barThickness: 120, borderColor: '#333', borderWidth: 4, borderSkipped: false,
    backgroundColor: boxColors, data: boxNames.map(function (n, i) { return { x: i, y: [boxQ1[i], boxQ3[i]] }; }) });
  datasets.push({ type: 'scatter', order: 2, pointStyle: 'line', pointRadius: 60, pointBorderWidth: 7, pointBorderColor: '#333', data: boxMedian.map(function (m, i) { return { x: i, y: m }; }) });
  brackets.forEach(function (b) {
    datasets.push({ type: 'line', order: 1, borderColor: '#000', borderWidth: 2.5, pointRadius: 0, data: [{ x: b[0], y: b[3] }, { x: b[0], y: b[2] }, { x: b[1], y: b[2] }, { x: b[1], y: b[3] }] });
  });
  addChart([1318, 121, 1829, 609], [63, 4, 4, 26], {
    data: { datasets: datasets },
    options: { scales: {
      x: { type: 'linear', offset: false, min: -0.6, max: 2.6, afterBuildTicks: fixedTicks([0, 1, 2]), grid: { offset: false, drawOnChartArea: false, tickLength: 4, color: '#333' }, border: { display: false },
        ticks: { autoSkip: false, minRotation: 0, maxRotation: 0, padding: 2, color: '#444', font: { size: 16 }, callback: function (v) { return boxNames[v]; } } },
      y: { type: 'linear', min: 0.98795, max: 1.03199, afterBuildTicks: fixedTicks(boxTicks), grid: { drawOnChartArea: false, tickLength: 4, color: '#333' }, border: { display: false },
        ticks: { autoSkip: false, minRotation: 0, maxRotation: 0, padding: 2, color: '#444', font: { size: 16 }, callback: function (v) { return v.toFixed(2); } },
        title: { display: true, text: 'CNV score', color: '#000', font: { size: 17 }, padding: 0 } }
    } }
  }, [frame(2.5), drawLayer(function (chart, ctx) {
    ctx.save(); ctx.font = '14px "Liberation Sans"'; ctx.fillStyle = '#000'; ctx.textAlign = 'center'; ctx.textBaseline = 'middle';
    brackets.forEach(function (b) { ctx.fillText('***', chart.scales.x.getPixelForValue((b[0] + b[1]) / 2), chart.scales.y.getPixelForValue(b[2]) - 14); });
    ctx.restore();
  })]);
})();

// ---------- panel C ----------
var LM_RED = '#d0322e', PT_BLUE = '#3a7fb8';
text('C', 1860, 70, { size: 48, weight: 'bold' });
text('Sample Origin', 2172, 92, { size: 19, weight: 'bold' });
(function () {
  var ds = [];
  clusterPoints.forEach(function (pts, i) {
    var col = clusterOrigin[i] === 'PT' ? PT_BLUE : LM_RED;
    ds.push(stampDataset(pts, col, 5));
    ds.push(strandDataset(strandPoints[i], col, 5));
  });
  ds.push(stampDataset(ptOnLM, PT_BLUE, 2));
  ds.push(stampDataset(lmOnPT, LM_RED, 2));
  addChart([1914, 111, 2432, 612], [50, 10, 6, 38], { type: 'scatter', data: { datasets: ds }, options: { scales: umapScales('UMAP_1', 'UMAP_2', 15, 16) } }, [frame(2.5)]);
})();
rect(1922, 576, 1930, 584, 'background:' + LM_RED + ';border-radius:50%');
rect(1922, 592, 1930, 600, 'background:' + PT_BLUE + ';border-radius:50%');
text('LM', 1940, 580, { size: 13, align: 'left', color: '#222' });
text('PT', 1940, 596, { size: 13, align: 'left', color: '#222' });

// ---------- panels D, E ----------
function clusterPanel(box, names) {
  var ds = [];
  clusterPoints.forEach(function (pts, i) {
    ds.push(stampDataset(pts, clusterColors[i], 5));
    ds.push(strandDataset(strandPoints[i], clusterColors[i], 5));
  });
  addChart(box, [50, 10, 6, 38], { type: 'scatter', data: { datasets: ds }, options: { scales: umapScales('UMAP_1', 'UMAP_2', 15, 16) } }, [frame(2.5), clusterLabels(names)]);
}
text('D', 1250, 692, { size: 48, weight: 'bold' });
text('Seurat Clusters', 1556, 696, { size: 19, weight: 'bold' });
clusterPanel([1298, 715, 1816, 1216], clusterNames);
text('E', 1856, 692, { size: 48, weight: 'bold' });
text('Cell Type', 2173, 696, { size: 19, weight: 'bold' });
clusterPanel([1914, 715, 2433, 1216], cellTypes);

// ---------- panels G, H ----------
function densityPanel(box, base, peaks, top) {
  var ds = [];
  clusterPoints.forEach(function (pts, i) {
    var col = 'rgb(' + viridisRgb(base[i] / top).join(',') + ')';
    ds.push(dotDataset(pts, col, 10, 5));
    ds.push(dotDataset(strandPoints[i], col, 4.5, 5));
  });
  ds.push({ data: peaks.map(function (p) { return { x: p[0], y: p[1], d: p[2] }; }), order: 1, glow: true, pointRadius: 38,
    pointStyle: function (c) { return glowStamp(c.raw.d / top); } });
  addChart(box, [60, 10, 6, 44], { type: 'scatter', data: { datasets: ds }, options: { scales: umapScales('UMAP 1', 'UMAP 2', 16, 19) } }, [frame(2.5)]);
}
var viridisCss = 'linear-gradient(to top,' + VIRIDIS.join(',') + ')';
text('G', 1253, 1304, { size: 48, weight: 'bold' });
text('FAM49B', 1558, 1313, { size: 25 });
densityPanel([1300, 1338, 1819, 1835], fam49bBase, fam49bPeaks, 0.027);
rect(1736, 1755, 1749, 1823, 'background:' + viridisCss);
text('Density', 1736, 1740, { size: 18, align: 'left' });
[['0.025', 1757], ['0.020', 1771], ['0.015', 1784], ['0.010', 1797], ['0.005', 1811]].forEach(function (l) { text(l[0], 1757, l[1], { size: 15, align: 'left' }); });
text('H', 1855, 1304, { size: 48, weight: 'bold' });
text('NEK9', 2175, 1313, { size: 25 });
densityPanel([1915, 1338, 2436, 1835], nek9Base, nek9Peaks, 0.036);
rect(2353, 1755, 2367, 1823, 'background:' + viridisCss);
text('Density', 2353, 1740, { size: 18, align: 'left' });
[['0.03', 1761], ['0.02', 1782], ['0.01', 1803]].forEach(function (l) { text(l[0], 2374, l[1], { size: 15, align: 'left' }); });

// ---------- panel F ----------
text('F', 18, 1011, { size: 48, weight: 'bold' });
text('Heatmap of Hallmarker pathway', 657, 988, { size: 35.5, weight: 'bold' });
(function () {
  var cells = [];
  pathwayScores.forEach(function (row, i) {
    row.forEach(function (v, j) { cells.push({ x: epColumns[j], y: pathways[i], v: v }); });
  });
  addChart([273, 1155, 654, 2523], [0, 0, 460, 93], {
    type: 'scatter',
    data: { datasets: [{ data: cells, pointStyle: 'rect', pointRadius: 18, pointBorderWidth: 0, pointBackgroundColor: function (c) { return heatColor(c.raw.v); } }] },
    options: { scales: {
      x: { type: 'category', labels: epColumns, offset: true, grid: { display: false }, border: { display: false }, ticks: { display: false, autoSkip: false, maxRotation: 0 } },
      y: { type: 'category', labels: pathways, offset: true, position: 'right', grid: { display: false, drawTicks: false }, border: { display: false },
        ticks: { autoSkip: false, padding: 11, color: '#000', font: { size: 27.3 } } }
    } }
  }, [drawLayer(function (chart, ctx) {
    ctx.save(); ctx.font = '27.3px "Liberation Sans"'; ctx.fillStyle = '#000'; ctx.textAlign = 'left'; ctx.textBaseline = 'middle';
    epColumns.forEach(function (n, j) {
      ctx.save(); ctx.translate(chart.scales.x.getPixelForValue(j), chart.scales.y.bottom + 8); ctx.rotate(Math.PI / 2); ctx.fillText(n, 0, 0); ctx.restore();
    });
    ctx.restore();
  })]);
})();
addChart([273, 1012, 654, 1153], [0, 0, 0, 0], {
  data: { datasets: [{ type: 'line', borderColor: '#000', borderWidth: 2, pointRadius: 0, tension: 0, spanGaps: false, clip: false,
    data: treeSegments(columnTree, 0, function (p, h) { return { x: p, y: h }; }) }] },
  options: { scales: { x: hidden({ type: 'linear', min: -0.5, max: 13.5 }), y: hidden({ type: 'linear', min: 0, max: 141 }) } }
});
addChart([100, 1155, 271, 2523], [0, 0, 0, 0], {
  data: { datasets: [{ type: 'line', borderColor: '#000', borderWidth: 2, pointRadius: 0, tension: 0, spanGaps: false, clip: false,
    data: treeSegments(rowTree, 447, function (p, h) { return { x: h, y: p }; }) }] },
  options: { scales: { x: hidden({ type: 'linear', min: 0, max: 447 }), y: hidden({ type: 'linear', reverse: true, min: -0.5, max: 49.5 }) } }
});
rect(1116, 1156, 1143, 1566, 'background:linear-gradient(to bottom,#cd2626,#ffffff 50%,#000080)');
[['3', 1181], ['2', 1241], ['1', 1301], ['0', 1361], ['\u22121', 1422], ['\u22122', 1482], ['\u22123', 1542]].forEach(function (l) { text(l[0], 1155, l[1], { size: 28, align: 'left' }); });

// ---------- panel I ----------
text('I', 1260, 1967, { size: 48, weight: 'bold' });
text('Hazard ratio', 1846, 1952, { size: 22 });
(function () {
  var bands = [[0.8727, 1.0647, 0.5, 1.5], [0.8727, 1.0647, 2.5, 3.5], [0.8727, 1.0647, 4.5, 5.5], [0.8727, 1.0647, 6.5, 7.5]];
  var ds = [Object.assign(blockDataset(bands, function () { return '#cfcfcf'; }), { order: 9 })];
  ds.push({ type: 'line', order: 3, borderColor: '#000', borderWidth: 2.5, borderDash: [3, 4], pointRadius: 0, data: [{ x: 1, y: -0.905 }, { x: 1, y: 7.98 }] });
  genes.forEach(function (g, i) {
    ds.push({ type: 'line', order: 2, borderColor: '#222', borderWidth: 2, pointStyle: 'line', pointRotation: 90, pointRadius: 5, pointBorderColor: '#222', pointBorderWidth: 2,
      data: [{ x: hazardLow[i], y: i }, { x: hazardHigh[i], y: i }] });
  });
  ds.push({ type: 'scatter', order: 1, pointStyle: 'rect', pointRadius: 11, pointBackgroundColor: '#000', pointBorderWidth: 0, data: hazard.map(function (h, i) { return { x: h, y: i }; }) });
  addChart([1397, 1974, 2296, 2511], [0, 0, 40, 24], {
    data: { datasets: ds },
    options: { scales: {
      x: { type: 'logarithmic', bounds: 'data', min: 0.8727, max: 1.0647, afterBuildTicks: fixedTicks(hazardTicks), grid: { color: '#c4c4c4', lineWidth: 1.2, drawTicks: false }, border: { display: false },
        ticks: { autoSkip: false, minRotation: 0, maxRotation: 0, padding: 3, color: '#555', font: { size: 15 }, callback: function (v) { return String(v); } } },
      y: { type: 'linear', reverse: true, min: -0.905, max: 7.98, display: false }
    } }
  }, [drawLayer(function (chart, ctx) {
    var sy = chart.scales.y;
    ctx.save(); ctx.fillStyle = '#222'; ctx.textBaseline = 'middle';
    genes.forEach(function (g, i) {
      var y = sy.getPixelForValue(i);
      ctx.textAlign = 'left'; ctx.font = 'bold 15px "Liberation Sans"'; ctx.fillText(g, 8, y);
      ctx.textAlign = 'center'; ctx.font = 'italic 15px "Liberation Sans"'; ctx.fillText('(N=343)', 163, y);
      ctx.font = '15px "Liberation Sans"'; ctx.fillText(hazard[i].toFixed(3), 314, y - 7);
      ctx.font = 'italic 15px "Liberation Sans"'; ctx.fillText('(' + hazardLow[i].toFixed(3) + ' \u2212 ' + hazardHigh[i].toFixed(3) + ')', 314, y + 7);
      ctx.textAlign = 'left'; ctx.fillText(pValues[i], 849, y);
    });
    ctx.restore();
  })]);
})();
text('# Events: 51; Global p-value (Log-Rank): 3.638e-07', 1405, 2494, { size: 14.5, style: 'italic', align: 'left', color: '#222' });
text('AIC: 435.33; Concordance Index: 0.81', 1405, 2516, { size: 14.5, style: 'italic', align: 'left', color: '#222' });
</script>
</body>
</html>
